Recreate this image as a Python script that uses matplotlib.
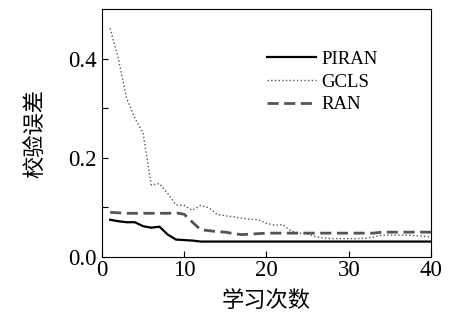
import matplotlib.pyplot as plt

plt.rcParams['font.family'] = ['Liberation Serif', 'Noto Sans CJK SC']

# epochs 1..40
epochs = list(range(1, 41))

piran = [0.075, 0.072, 0.070, 0.070, 0.062, 0.059, 0.061, 0.045, 0.035, 0.034,
         0.033] + [0.031] * 29

gcls = [0.461, 0.400, 0.320, 0.280, 0.250, 0.145, 0.148, 0.128, 0.105, 0.104,
        0.094, 0.104, 0.099, 0.086, 0.083, 0.081, 0.078, 0.076, 0.075, 0.068,
        0.064, 0.065, 0.052, 0.048, 0.046, 0.041, 0.038, 0.037, 0.037, 0.037,
        0.037, 0.038, 0.040, 0.044, 0.044, 0.044, 0.044, 0.043, 0.042, 0.040]

ran = [0.090, 0.089, 0.088, 0.088, 0.088, 0.088, 0.088, 0.088, 0.089, 0.086,
       0.070, 0.055, 0.053, 0.051, 0.050, 0.047, 0.045, 0.046, 0.047] + [0.048] * 14 + [0.050] * 7

fig = plt.figure(figsize=(4.49, 3.24), dpi=100)
ax = fig.add_axes([0.227, 0.207, 0.733, 0.765])

ax.plot(epochs, piran, color='black', lw=1.6, label='PIRAN')
ax.plot(epochs, gcls, color='#555555', lw=1.0, ls=':', label='GCLS')
ax.plot(epochs, ran, color='#555555', lw=2.0, ls=(0, (4, 2)), label='RAN')

ax.set_xlim(0, 40)
ax.set_ylim(0, 0.5)
ax.set_xticks([0, 10, 20, 30, 40])
ax.set_yticks([0.0, 0.1, 0.2, 0.3, 0.4])
ax.set_yticklabels(['0.0', '', '0.2', '', '0.4'])
ax.tick_params(direction='in', labelsize=16.5, length=4)
ax.tick_params(axis='x', pad=2)

ax.set_xlabel('学习次数', fontsize=16, family='Noto Sans CJK SC', labelpad=6)
ax.set_ylabel('校验误差', fontsize=16, family='Noto Sans CJK SC', labelpad=16)

leg = ax.legend(loc='upper right', bbox_to_anchor=(0.89, 0.9), frameon=False,
                fontsize=13.5, handlelength=2.6, handletextpad=0.3, labelspacing=0.3)

fig.savefig('out.png', dpi=100)
